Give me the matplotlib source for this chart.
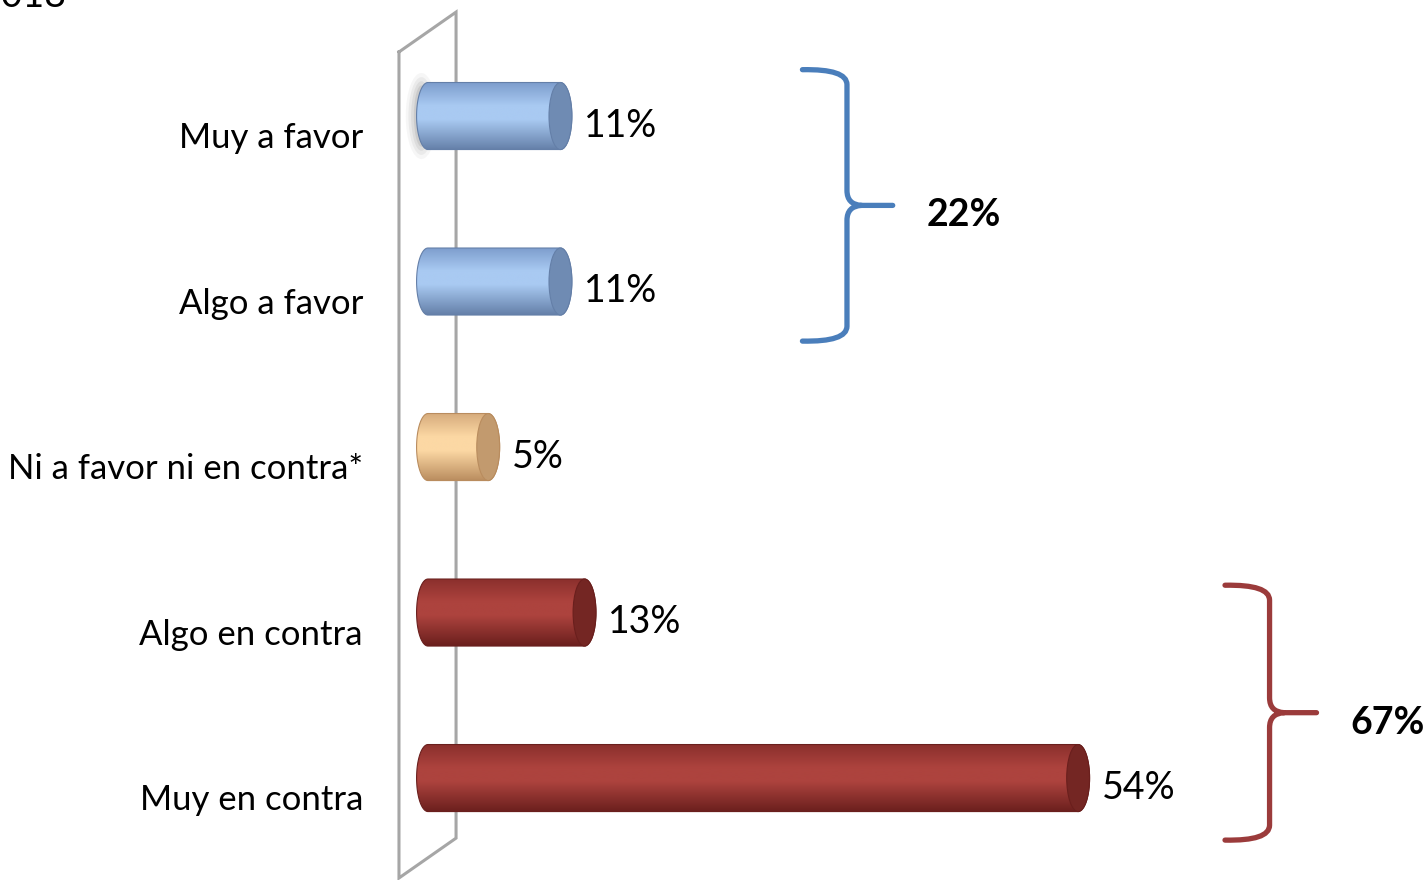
import numpy as np
import matplotlib
matplotlib.use("Agg")
import matplotlib.pyplot as plt
from matplotlib.path import Path
from matplotlib.patches import Ellipse, PathPatch
from matplotlib.colors import to_rgb

plt.rcParams['font.family'] = ['Lato', 'DejaVu Sans']

categories = ["Muy a favor", "Algo a favor", "Ni a favor ni en contra*",
              "Algo en contra", "Muy en contra"]
values = [11, 11, 5, 13, 54]
value_labels = ["11%", "11%", "5%", "13%", "54%"]
group_totals = ["22%", "67%"]
groups = [(0, 1), (3, 4)]

# colour sets: (dark top, light middle, dark bottom, cap)
blue = ("#7c9ccc", "#a9caf2", "#647fa8", "#6f8bb3")
peach = ("#d6ab7c", "#fcd8a4", "#b98c5e", "#c29a6e")
red = ("#8a2f2c", "#ad433e", "#6a1f1d", "#742623")
bar_colors = [blue, blue, peach, red, red]
bracket_colors = ["#4a7ebb", "#9b3b3b"]

fig = plt.figure(figsize=(14.28, 8.8), dpi=100)
ax = fig.add_axes([0, 0, 1, 1])
ax.set_xlim(-35.55, 83.06)
ax.set_ylim(4.616, -0.701)
ax.axis("off")

# 3D wall of the chart
wall_x = [-2.41, 2.33, 2.33, -2.41, -2.41]
wall_y = [-0.387, -0.628, 4.363, 4.604, -0.387]
ax.plot(wall_x, wall_y, color="#a6a6a6", lw=2.2, zorder=1, solid_joinstyle="miter")

bh = 0.405      # bar thickness (category units)
ca = 0.95       # cap half-width in % units


def lerp_grad(c_top, c_mid, c_bot, n=200):
    t = np.linspace(0, 1, n)
    a, b, c = np.array(to_rgb(c_top)), np.array(to_rgb(c_mid)), np.array(to_rgb(c_bot))
    out = np.zeros((n, 1, 3))
    for k, tt in enumerate(t):
        if tt < 0.35:
            f = tt / 0.35
            out[k, 0] = a * (1 - f) + b * f
        elif tt < 0.55:
            out[k, 0] = b
        else:
            f = (tt - 0.55) / 0.45
            out[k, 0] = b * (1 - f) + c * f
    return out


# soft shadow at the base of the first bar
for k, al in enumerate([0.05, 0.07, 0.09, 0.12]):
    ax.add_patch(Ellipse((-0.55, 0), 2.6 - k * 0.45, 0.52 - k * 0.05,
                         facecolor="#555555", edgecolor="none", alpha=al, zorder=2))

theta = np.linspace(-np.pi / 2, np.pi / 2, 60)
for i, (v, cols) in enumerate(zip(values, bar_colors)):
    yt, yb = i - bh / 2, i + bh / 2
    x0, x1 = 0.0, float(v)
    right = np.column_stack([x1 + ca * np.cos(theta), i + (bh / 2) * np.sin(theta)])
    left = np.column_stack([x0 - ca * np.cos(theta[::-1]), i + (bh / 2) * np.sin(theta[::-1])])
    verts = np.vstack([right, left, right[:1]])
    codes = [Path.MOVETO] + [Path.LINETO] * (len(verts) - 2) + [Path.CLOSEPOLY]
    path = Path(verts, codes)
    patch = PathPatch(path, facecolor="none", edgecolor="none", zorder=3)
    ax.add_patch(patch)
    im = ax.imshow(lerp_grad(cols[0], cols[1], cols[2]), extent=[x0 - ca, x1 + ca, yb, yt],
                   aspect="auto", interpolation="bilinear", zorder=3, origin="upper")
    im.set_clip_path(patch)
    ax.add_patch(PathPatch(path, facecolor="none", edgecolor=cols[2], lw=0.8, zorder=4))
    # end cap
    ax.add_patch(Ellipse((x1, i), 2 * ca, bh, facecolor=cols[3], edgecolor=cols[2],
                         lw=0.8, zorder=5))
    ax.add_patch(Ellipse((x1 + 0.12, i), 2 * ca * 0.72, bh * 0.9, facecolor=cols[3],
                         edgecolor="none", alpha=0.6, zorder=5))
    # value label
    ax.text(x1 + ca + 1.0, i + 0.06, value_labels[i], fontsize=27, va="center",
            ha="left", color="#000000", zorder=6)
    # category label
    ax.text(-5.4, i + 0.135, categories[i], fontsize=25, va="center", ha="right",
            color="#000000", zorder=6)

# curly brackets for grouped totals
bracket_geom = [
    # x_left, x_spine, x_tip, top offset, bottom offset
    (31.1, 34.8, 38.6, -0.28, 0.36),
    (66.2, 69.9, 73.8, -0.165, 0.375),
]
for g, geo, col, lab in zip(groups, bracket_geom, bracket_colors, group_totals):
    xl, xs, xt, to, bo = geo
    ytop = g[0] + to
    ybot = g[1] + bo
    ymid = (ytop + ybot) / 2
    verts = [
        (xl, ytop), (xs, ytop - 0.005), (xs, ytop + 0.09),      # top hook
        (xs, ymid - 0.09),                                         # spine
        (xs, ymid - 0.005), (xs + 1.2, ymid),                      # into tip
        (xt, ymid),                                                # tip
        (xs + 1.2, ymid), (xs, ymid + 0.005), (xs, ymid + 0.09),   # out of tip
        (xs, ybot - 0.09),                                         # spine
        (xs, ybot + 0.005), (xl, ybot),                            # bottom hook
    ]
    codes = [Path.MOVETO, Path.CURVE3, Path.CURVE3, Path.LINETO,
             Path.CURVE3, Path.CURVE3, Path.LINETO, Path.MOVETO,
             Path.CURVE3, Path.CURVE3, Path.LINETO, Path.CURVE3, Path.CURVE3]
    ax.add_patch(PathPatch(Path(verts, codes), facecolor="none", edgecolor=col,
                           lw=3.8, capstyle="round", joinstyle="round", zorder=4))
    ax.text(xt + 2.8, ymid + 0.06, lab, fontsize=27, fontweight="bold", va="center",
            ha="left", color="#000000", zorder=6)

# cut-off title fragment at the top-left corner (as in the source image)
fig.text(66 / 1428, 1 - 7 / 880, "2018", fontsize=27, ha="right", va="baseline",
         color="#000000")

fig.savefig("out.png", dpi=100)
